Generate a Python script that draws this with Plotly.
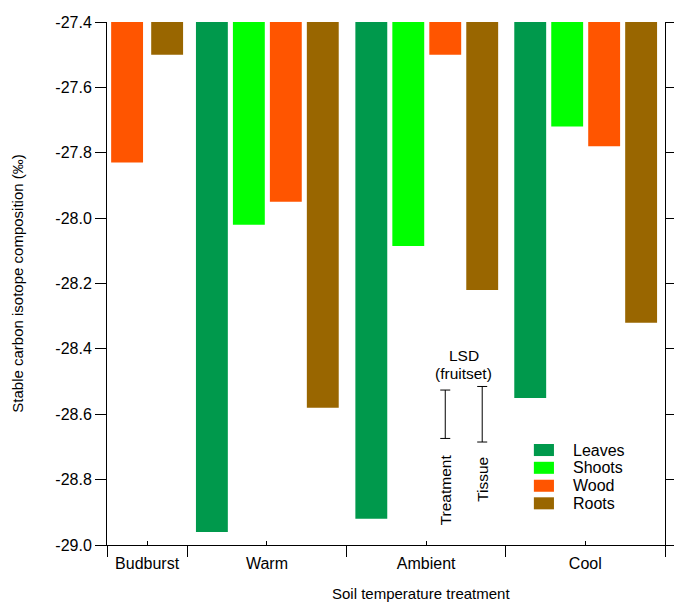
import plotly.graph_objects as go

# Soil temperature treatments (x groups) and plant tissues (series)
categories = ["Budburst", "Warm", "Ambient", "Cool"]
tissues = ["Leaves", "Shoots", "Wood", "Roots"]
colors = ["#00994C", "#00FF00", "#FF5500", "#996600"]

# Stable carbon isotope composition (per mil); None = not measured
leaves = [None, -28.96, -28.92, -28.55]
shoots = [None, -28.02, -28.085, -27.72]
wood = [-27.83, -27.95, -27.50, -27.78]
roots = [-27.50, -28.58, -28.22, -28.32]
series = [leaves, shoots, wood, roots]

# Least significant differences (fruitset) for treatment and tissue
lsd_labels = ["Treatment", "Tissue"]
lsd_values = [0.148, 0.170]
lsd_center = -28.60

y_ticks = [-29.0, -28.8, -28.6, -28.4, -28.2, -28.0, -27.8, -27.6, -27.4]
y_tick_labels = ["-29.0", "-28.8", "-28.6", "-28.4", "-28.2", "-28.0", "-27.8", "-27.6", "-27.4"]

BASE = -27.4
Y_MIN = -29.0

# x layout in slot units: group edges, bar spacing and width
edges = [0.0, 2.164, 6.464, 10.75, 15.05]
slot = 0.997
bar_width = 0.86
centers = [(edges[i] + edges[i + 1]) / 2 for i in range(len(categories))]


def bar_positions(group):
    """x positions of the tissues present in a group."""
    present = [t for t in range(len(tissues)) if series[t][group] is not None]
    if len(present) == 2:
        return dict(zip(present, [centers[group] - 0.54, centers[group] + 0.54]))
    left = edges[group]
    return {t: left + 0.665 + t * slot for t in present}


positions = [bar_positions(g) for g in range(len(categories))]

FONT = "Liberation Sans, Arial, sans-serif"
fig = go.Figure()

for t, name in enumerate(tissues):
    xs, ys = [], []
    for g in range(len(categories)):
        v = series[t][g]
        if v is None:
            continue
        xs.append(positions[g][t])
        ys.append(v - BASE)
    fig.add_trace(go.Bar(
        x=xs, y=ys, base=BASE, width=bar_width, name=name,
        marker=dict(color=colors[t], line=dict(width=0)),
        showlegend=False,
    ))

# LSD bars sit over the Ambient wood and roots columns
amb = categories.index("Ambient")
lsd_x = [positions[amb][2], positions[amb][3]]
fig.add_trace(go.Scatter(
    x=lsd_x, y=[lsd_center] * 2, xaxis="x2", yaxis="y",
    mode="markers", marker=dict(size=1, color="rgba(0,0,0,0)"),
    error_y=dict(type="data", array=[v / 2 for v in lsd_values],
                 symmetric=True, width=5, thickness=1, color="black"),
    showlegend=False, hoverinfo="skip",
))

txt = dict(size=15.5, family=FONT, color="black")
annotations = []
mid_x = sum(lsd_x) / 2
annotations.append(dict(x=mid_x, y=-28.419, xref="x", yref="y", text="LSD",
                        showarrow=False, font=txt))
annotations.append(dict(x=mid_x, y=-28.474, xref="x", yref="y", text="(fruitset)",
                        showarrow=False, font=txt))
for x, label, yc in zip(lsd_x, lsd_labels, [-28.832, -28.800]):
    annotations.append(dict(x=x, y=yc, xref="x", yref="y", text=label, textangle=-90,
                            showarrow=False, xanchor="center", yanchor="middle",
                            font=txt))

# x-axis title
annotations.append(dict(x=0.563, y=-0.092, xref="paper", yref="paper",
                        text="Soil temperature treatment", showarrow=False,
                        xanchor="center", yanchor="middle",
                        font=dict(size=15, family=FONT, color="black")))

# legend: swatches and labels
shapes = []
row_y = [0.1816, 0.1476, 0.1133, 0.0797]
for name, col, ry in zip(tissues, colors, row_y):
    shapes.append(dict(type="rect", xref="paper", yref="paper",
                       x0=0.765, x1=0.801, y0=ry - 0.0115, y1=ry + 0.0115,
                       fillcolor=col, line=dict(width=0)))
    annotations.append(dict(x=0.8315, y=ry, xref="paper", yref="paper", text=name,
                            showarrow=False, xanchor="left", yanchor="middle",
                            font=dict(size=16, family=FONT, color="black")))

fig.update_layout(
    width=674, height=603,
    margin=dict(l=107, r=9, t=22, b=58, autoexpand=False),
    paper_bgcolor="white", plot_bgcolor="white",
    font=dict(family=FONT, size=16, color="black"),
    barmode="overlay",
    xaxis=dict(range=[edges[0], edges[-1]], tickmode="array",
               tickvals=centers, ticktext=categories,
               ticks="inside", ticklen=4, tickcolor="black", tickwidth=1,
               ticklabelstandoff=4,
               showline=True, linecolor="black", linewidth=1,
               showgrid=False, zeroline=False, automargin=False,
               tickfont=dict(size=16)),
    xaxis2=dict(range=[edges[0], edges[-1]], overlaying="x", anchor="y",
                side="bottom", tickmode="array", tickvals=edges,
                ticks="outside", ticklen=11, tickcolor="black", tickwidth=1,
                showticklabels=False, showline=False, showgrid=False,
                zeroline=False, automargin=False),
    yaxis=dict(range=[Y_MIN, BASE], tickmode="array", tickvals=y_ticks,
               ticktext=y_tick_labels, ticks="outside", ticklen=11,
               tickcolor="black", tickwidth=1, showline=True, linecolor="black",
               linewidth=1, mirror="ticks", showgrid=False, zeroline=False,
               automargin=False, tickfont=dict(size=16),
               title=dict(text="Stable carbon isotope composition (‰)",
                          font=dict(size=15), standoff=28)),
    annotations=annotations,
    shapes=shapes,
    showlegend=False,
)

fig.write_html("out.html")
